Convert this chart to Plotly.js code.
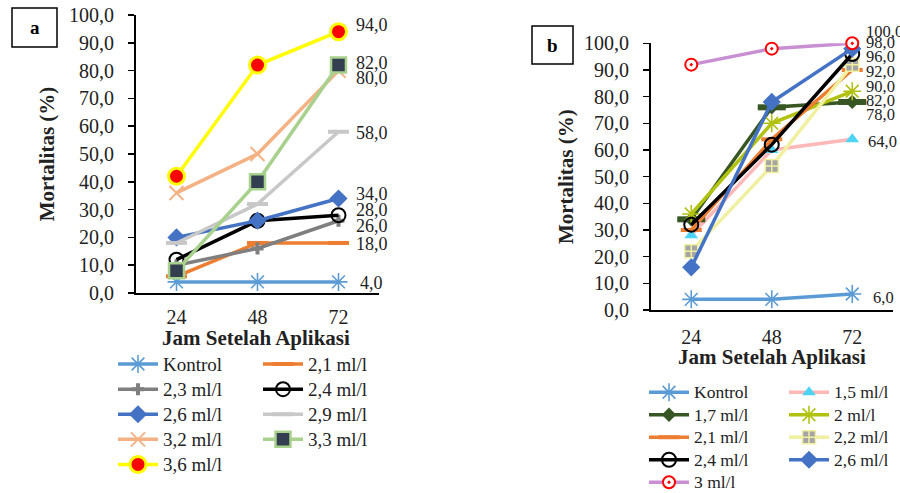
<!DOCTYPE html>
<html><head><meta charset="utf-8">
<script src="https://cdn.plot.ly/plotly-3.0.1.min.js"></script>
<style>html,body{margin:0;padding:0;background:#fff}#chart{width:900px;height:493px}</style>
</head><body><div id="chart"></div>
<script>
// ---------- DATA ----------
const hours = ['24', '48', '72'];
const yTicks = [0, 10, 20, 30, 40, 50, 60, 70, 80, 90, 100];

// Panel a
const aKontrol = [4, 4, 4];
const a21 = [6, 18, 18];
const a23 = [10, 16, 26];
const a24 = [12, 26, 28];
const a26 = [20, 26, 34];
const a29 = [18, 32, 58];
const a32 = [36, 50, 80];
const a33 = [8, 40, 82];
const a36 = [42, 82, 94];

// Panel b
const bKontrol = [4, 4, 6];
const b15 = [28, 60, 64];
const b17 = [34, 76, 78];
const b2 = [36, 70, 82];
const b21 = [30, 64, 90];
const b22 = [22, 54, 92];
const b24 = [32, 62, 96];
const b26 = [16, 78, 98];
const b3 = [92, 98, 100];

// ---------- STYLES ----------
const FONT = 'Liberation Serif';
const fmt = v => v.toFixed(1).replace('.', ',');

function tr(name, y, ax, leg, lineColor, marker, opts) {
  return Object.assign({
    type: 'scatter', mode: 'lines+markers', x: hours, y: y, name: name,
    xaxis: ax === 1 ? 'x' : 'x2', yaxis: ax === 1 ? 'y' : 'y2',
    legend: leg, cliponaxis: false,
    line: {color: lineColor, width: 3.5},
    marker: marker
  }, opts || {});
}
const star = c => ({symbol: 'asterisk-open', size: 15, line: {color: c, width: 1.6}});
const dash = c => ({symbol: 'line-ew-open', size: 15, line: {color: c, width: 4}});

const traces = [
  // panel a
  tr('Kontrol', aKontrol, 1, 'legend', '#5B9BD5', star('#5B9BD5')),
  tr('2,1 ml/l', a21, 1, 'legend2', '#ED7D31', dash('#FFFF00')),
  tr('2,3 ml/l', a23, 1, 'legend', '#7F7F7F', {symbol: 'cross', size: 10, color: '#7F7F7F'}),
  tr('2,4 ml/l', a24, 1, 'legend2', '#000000', {symbol: 'circle-open', size: 14, line: {color: '#000', width: 2}}),
  tr('2,6 ml/l', a26, 1, 'legend', '#4472C4', {symbol: 'diamond', size: 14, color: '#4472C4'}),
  tr('2,9 ml/l', a29, 1, 'legend2', '#C8C8C8', dash('#70AD47')),
  tr('3,2 ml/l', a32, 1, 'legend', '#F4B183', {symbol: 'x-thin-open', size: 14, line: {color: '#F4B183', width: 2}}),
  tr('3,3 ml/l', a33, 1, 'legend2', '#A9D18E', {symbol: 'square', size: 15, color: '#333F50', line: {color: '#A9D18E', width: 2.5}}),
  tr('3,6 ml/l', a36, 1, 'legend', '#FFFF00', {symbol: 'circle', size: 16, color: '#FF0000', line: {color: '#FFFF00', width: 3}}),
  // panel b
  tr('Kontrol', bKontrol, 2, 'legend3', '#5B9BD5', star('#5B9BD5')),
  tr('1,5 ml/l', b15, 2, 'legend4', '#FFB8B8', {symbol: 'triangle-up', size: 12, color: '#4DD4F5'}),
  tr('1,7 ml/l', b17, 2, 'legend3', '#375623', {symbol: 'diamond', size: 11, color: '#375623'}, {legendgroup: 'b17'}),
  tr('1,7 ml/l', b17, 2, 'legend3', '#375623', {symbol: 'line-ew-open', size: 20, line: {color: '#375623', width: 6}}, {legendgroup: 'b17', showlegend: false, mode: 'markers'}),
  tr('2 ml/l', b2, 2, 'legend4', '#B2C210', star('#B2C210')),
  tr('2,1 ml/l', b21, 2, 'legend3', '#ED7D31', dash('#FFFF00')),
  tr('2,2 ml/l', b22, 2, 'legend4', '#F0F0A0', {symbol: 'square-cross', size: 13, color: '#A5A5A5', line: {color: '#F0F0A0', width: 1.5}}),
  tr('2,4 ml/l', b24, 2, 'legend3', '#000000', {symbol: 'circle-open', size: 14, line: {color: '#000', width: 2}}),
  tr('2,6 ml/l', b26, 2, 'legend4', '#4472C4', {symbol: 'diamond', size: 14, color: '#4472C4'}),
  tr('3 ml/l', b3, 2, 'legend3', '#C88FD2', {symbol: 'circle-dot', size: 12, color: '#FFFFFF', line: {color: '#FF0000', width: 2}})
];

// ---------- LABELS at last point ----------
const labelOffsetsA = {'Kontrol': [19, -1], '2,1 ml/l': [15, -1], '2,3 ml/l': [15, -5], '2,4 ml/l': [15, 5],
  '2,6 ml/l': [15, 4], '2,9 ml/l': [15, -1], '3,2 ml/l': [15, -7], '3,3 ml/l': [15, 2], '3,6 ml/l': [15, 7]};
const labelOffsetsB = {'Kontrol': [19, -3], '1,5 ml/l': [14, -2], '1,7 ml/l': [12, -13], '2 ml/l': [12, -9],
  '2,1 ml/l': [12, -17], '2,2 ml/l': [12, -7], '2,4 ml/l': [12, -3], '2,6 ml/l': [12, 6], '3 ml/l': [12, 12]};

const annotations = [];
traces.forEach(t => {
  const isA = t.xaxis === 'x';
  if (t.showlegend !== false) {
    const offs = (isA ? labelOffsetsA : labelOffsetsB)[t.name];
    const last = t.y.length - 1;
    const v = t.y[last];
    annotations.push({
      x: last, y: v, xref: t.xaxis, yref: t.yaxis,
      text: fmt(v), showarrow: false, xanchor: 'left', yanchor: 'middle',
      xshift: offs[0], yshift: offs[1],
      font: {family: FONT, size: isA ? 18 : 16.5, color: '#222'}
    });
  }
  // legend text in serif, slightly larger than the row pitch font
  t.name = '<span style="font-family:Liberation Serif;font-size:' + (isA ? 19 : 17.5) + 'px">' + t.name + '</span>';
});
// panel letters
annotations.push({x: 34.5 / 900, y: 1 - 27.5 / 493, xref: 'paper', yref: 'paper', text: '<b>a</b>', showarrow: false,
  xanchor: 'center', yanchor: 'middle', font: {family: FONT, size: 19, color: '#000'}});
annotations.push({x: 552.5 / 900, y: 1 - 45 / 493, xref: 'paper', yref: 'paper', text: '<b>b</b>', showarrow: false,
  xanchor: 'center', yanchor: 'middle', font: {family: FONT, size: 19, color: '#000'}});
// x axis titles
annotations.push({x: 256 / 900, y: 1 - 338 / 493, xref: 'paper', yref: 'paper', text: '<b>Jam Setelah Aplikasi</b>',
  showarrow: false, xanchor: 'center', yanchor: 'middle', font: {family: FONT, size: 21, color: '#222'}});
annotations.push({x: 772 / 900, y: 1 - 357 / 493, xref: 'paper', yref: 'paper', text: '<b>Jam Setelah Aplikasi</b>',
  showarrow: false, xanchor: 'center', yanchor: 'middle', font: {family: FONT, size: 21, color: '#222'}});

const shapes = [
  {type: 'rect', xref: 'paper', yref: 'paper', x0: 12 / 900, x1: 57 / 900, y0: 1 - 47 / 493, y1: 1 - 8 / 493,
    line: {color: '#000', width: 1.5}},
  {type: 'rect', xref: 'paper', yref: 'paper', x0: 532 / 900, x1: 573 / 900, y0: 1 - 64 / 493, y1: 1 - 26 / 493,
    line: {color: '#000', width: 1.5}}
];

function xAxis(domain, anchor, lblStandoff) {
  return {domain: domain, anchor: anchor, type: 'category', categoryorder: 'array', categoryarray: hours,
    range: [-0.5, 2.5], showline: true, linecolor: '#000', linewidth: 1.5, ticks: '', showgrid: false,
    zeroline: false, ticklabelstandoff: lblStandoff, tickfont: {family: FONT, size: 20, color: '#222'}};
}
function yAxis(domain, anchor, standoff) {
  return {domain: domain, anchor: anchor, range: [0, 100], tickvals: yTicks, tickformat: '.1f',
    showline: true, linecolor: '#000', linewidth: 2, ticks: 'outside', ticklen: 6, tickwidth: 1.5, tickcolor: '#000',
    showgrid: false, zeroline: false, ticklabelstandoff: 10, tickfont: {family: FONT, size: 20, color: '#222'},
    title: {text: '<b>Mortalitas (%)</b>', font: {family: FONT, size: 21, color: '#222'}, standoff: standoff}};
}
function leg(x, y, size) {
  return {x: x, y: y, xanchor: 'left', yanchor: 'top', orientation: 'v', bgcolor: 'rgba(0,0,0,0)',
    borderwidth: 0, itemwidth: 40, font: {family: FONT, size: size, color: '#222'}, traceorder: 'normal'};
}

const layout = {
  width: 900, height: 493, margin: {l: 0, r: 0, t: 0, b: 0, autoexpand: false},
  paper_bgcolor: '#fff', plot_bgcolor: '#fff', separators: ',.',
  font: {family: FONT},
  xaxis: xAxis([136 / 900, 379 / 900], 'y', 5),
  yaxis: yAxis([1 - 293 / 493, 1 - 15 / 493], 'x', 9),
  xaxis2: xAxis([651 / 900, 892.5 / 900], 'y2', 8),
  yaxis2: yAxis([1 - 310 / 493, 1 - 43.3 / 493], 'x2', 5),
  showlegend: true,
  legend: leg(113 / 900, 1 - 346.5 / 493, 17),
  legend2: leg(258 / 900, 1 - 346.5 / 493, 17),
  legend3: leg(644 / 900, 1 - 376 / 493, 15),
  legend4: leg(784 / 900, 1 - 376 / 493, 15),
  annotations: annotations,
  shapes: shapes
};

Plotly.newPlot('chart', traces, layout, {displayModeBar: false, staticPlot: true});
</script>
</body></html>
